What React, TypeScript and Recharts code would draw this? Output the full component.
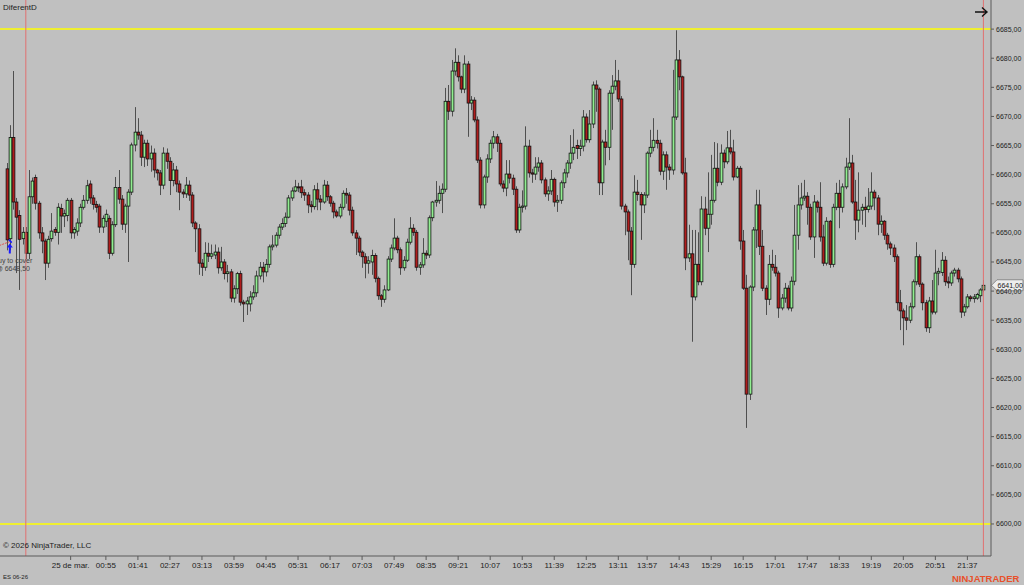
import React from "react";
import { Bar, ComposedChart, ReferenceDot, ReferenceLine, XAxis, YAxis } from "recharts";

// ES 06-26 candles (price points)
const opens = [
  6661, 6649, 6666.4, 6655.3, 6653, 6649, 6650.1, 6646.5, 6656.2, 6659.5,
  6655.1, 6650, 6648.6, 6644.8, 6649, 6650.6, 6650.1, 6654.2, 6652.9, 6653,
  6655.6, 6650, 6650.3, 6651.7, 6654.4, 6655.6, 6658.4, 6656, 6654.9, 6654.6,
  6651, 6652, 6652.5, 6646.5, 6651.4, 6657.8, 6655.8, 6651.5, 6654.6, 6657,
  6665.1, 6667.3, 6666.8, 6663, 6665.4, 6662.7, 6663.7, 6660.8, 6660.3, 6658.2,
  6663.7, 6662.3, 6659, 6660.8, 6658.4, 6657, 6656.7, 6658.2, 6656.5, 6651.7,
  6650.7, 6644.8, 6644.1, 6646.5, 6646, 6646.2, 6646.7, 6644, 6645, 6643,
  6643.3, 6638.8, 6640.4, 6643, 6638.1, 6637.8, 6637.8, 6639, 6639.7, 6642.6,
  6644.1, 6643.3, 6644.6, 6647.6, 6647.9, 6649.6, 6651, 6651.6, 6652.7, 6656,
  6657.2, 6657.9, 6657.9, 6656.9, 6656.5, 6654.8, 6654.5, 6657.4, 6655.8, 6655.3,
  6658.2, 6656.2, 6655.1, 6653.6, 6652.9, 6654.4, 6656.8, 6656.5, 6653.9, 6650,
  6649.1, 6646.7, 6645.9, 6644.8, 6645, 6646.1, 6642.2, 6639.2, 6638.6, 6640.2,
  6645.5, 6647.4, 6649.1, 6647.1, 6644, 6645.3, 6648.4, 6650.8, 6650.1, 6644.1,
  6644.5, 6646.5, 6646.2, 6652.6, 6655.3, 6655.6, 6656.8, 6657.5, 6672.6, 6670.9,
  6677.8, 6679.3, 6676.8, 6674.7, 6679, 6672.3, 6672.8, 6669.4, 6662.5, 6654.8,
  6659.6, 6662.7, 6665.4, 6666.5, 6665.4, 6658.4, 6657.7, 6660.1, 6659.4, 6657.5,
  6650.5, 6654.4, 6654.6, 6664.9, 6660.3, 6660.1, 6661.3, 6662, 6659.1, 6656.7,
  6657.2, 6659.2, 6655.3, 6655.6, 6658.6, 6660.3, 6662, 6663.7, 6665, 6664.5,
  6664.9, 6669.9, 6666, 6668.7, 6675.4, 6674.7, 6658.6, 6665.6, 6664.7, 6674,
  6675.2, 6676.1, 6673, 6654.6, 6653.6, 6650.3, 6644.6, 6657, 6656.6, 6654.8,
  6656.5, 6663.7, 6664.7, 6665.9, 6665.4, 6660.6, 6663.4, 6661.3, 6660.8, 6669.9,
  6679.7, 6676.8, 6660.3, 6645.7, 6646.4, 6639, 6644.6, 6641.6, 6654.1, 6650.8,
  6653.2, 6655.6, 6661.1, 6658.7, 6663.7, 6662.2, 6664.6, 6663.9, 6659.6, 6661.1,
  6648.6, 6640.5, 6622.3, 6640.7, 6650.5, 6654.8, 6647.7, 6640.5, 6638.6, 6644.6,
  6644.1, 6643.1, 6637.1, 6638.8, 6640.5, 6637.1, 6641.7, 6649.6, 6654.8, 6656,
  6656.3, 6654.4, 6649.3, 6655.3, 6654.4, 6649.3, 6644.8, 6652, 6644.6, 6654.4,
  6656.8, 6654.4, 6657.9, 6661.3, 6662, 6655.3, 6652.2, 6653.9, 6654.4, 6654,
  6654.6, 6657, 6656, 6651.5, 6652, 6649.6, 6648.1, 6647.4, 6645.9, 6638,
  6636.6, 6635.4, 6635, 6637.3, 6641.6, 6645.9, 6641.2, 6638, 6633.7, 6638.3,
  6636.4, 6643.1, 6643.2, 6645.3, 6641.6, 6641.4, 6643.1, 6643.6, 6642.1, 6636.4,
  6637.3, 6639, 6638.7, 6638.8, 6639.2, 6640.2,
];

const highs = [
  6662, 6668.5, 6677.8, 6656, 6653.9, 6651, 6651, 6660.8, 6659.5, 6660,
  6655.5, 6651, 6649, 6649.5, 6653.4, 6651, 6655.1, 6655, 6654, 6656,
  6656, 6651, 6652.5, 6655, 6656.5, 6659.1, 6659, 6656.5, 6655.5, 6655,
  6653, 6654, 6653, 6652, 6659.6, 6660.8, 6656.5, 6655, 6657.5, 6665.5,
  6671.6, 6669.7, 6667.5, 6666, 6666, 6665, 6664.5, 6661, 6660.8, 6664.7,
  6664.5, 6663, 6662, 6661.5, 6659, 6657.5, 6659.6, 6659, 6657, 6652,
  6651.5, 6645.5, 6648.4, 6648.3, 6648, 6648, 6647.5, 6647.6, 6645.5, 6644.5,
  6643.8, 6641, 6643.3, 6643.5, 6638.5, 6639, 6640, 6641, 6643.5, 6645,
  6645, 6645.5, 6648, 6649.6, 6650.1, 6651.5, 6652.5, 6653.5, 6656.5, 6657.8,
  6659.1, 6658.6, 6659.1, 6657.5, 6657, 6655.5, 6658.2, 6658.6, 6656.5, 6659.1,
  6658.9, 6656.5, 6655.5, 6654, 6655, 6657.3, 6657.7, 6657, 6654.5, 6650.5,
  6649.5, 6647, 6646.5, 6646, 6647.1, 6646.5, 6642.5, 6639.5, 6641, 6646,
  6648, 6652.5, 6649.5, 6647.5, 6646, 6649, 6652.7, 6651.5, 6650.5, 6645,
  6649.1, 6647, 6653, 6655.5, 6658.9, 6658.1, 6658.5, 6674.9, 6675.4, 6679.7,
  6681.7, 6680.5, 6677, 6680.5, 6679.5, 6673.5, 6673.3, 6670, 6663, 6660,
  6663.5, 6666, 6667.5, 6667, 6666, 6659, 6662.5, 6662.5, 6660, 6658,
  6655, 6657.3, 6668.3, 6666, 6661, 6663, 6663, 6662.5, 6659.5, 6658,
  6660.8, 6659.5, 6656.5, 6659, 6661, 6662.5, 6666.8, 6667.8, 6666, 6666,
  6671.1, 6670.5, 6671.1, 6676, 6676.2, 6675, 6666, 6667.7, 6674.5, 6677.1,
  6679.7, 6678, 6673.5, 6655, 6654, 6651, 6659.9, 6659.1, 6657, 6657,
  6664, 6667.7, 6669.7, 6667.7, 6666, 6664, 6664, 6661.8, 6678, 6684.8,
  6681.4, 6677, 6662.9, 6651.4, 6650.5, 6650.5, 6650.1, 6656.3, 6656.2, 6660.4,
  6663.4, 6665.6, 6665.4, 6665.2, 6664.3, 6667.5, 6667.7, 6666, 6661.5, 6661.5,
  6650.5, 6642.8, 6641, 6651, 6657.4, 6657.4, 6650.5, 6641, 6646.2, 6647.1,
  6646.2, 6643.5, 6639.5, 6641.4, 6641, 6642.5, 6654.8, 6658.2, 6658.6, 6659.1,
  6657, 6655, 6656.5, 6655.6, 6658.7, 6651.4, 6652.7, 6652.2, 6655, 6658.6,
  6659.1, 6658.5, 6662.9, 6669.7, 6663.4, 6659.1, 6660.4, 6655, 6656.2, 6657.7,
  6660.4, 6657.4, 6656.5, 6653, 6652.2, 6650, 6648.5, 6648, 6646.3, 6640.2,
  6637, 6637.6, 6638, 6642, 6648.4, 6646.3, 6641.5, 6638.5, 6639, 6641.9,
  6647.1, 6644, 6646.7, 6646, 6642.5, 6643.5, 6644, 6644, 6642.5, 6637.8,
  6639.5, 6639.3, 6639.5, 6639.7, 6640.5, 6641.9,
];

const lows = [
  6647, 6647, 6654, 6643.1, 6640.2, 6648, 6645.5, 6645.5, 6655, 6654,
  6649, 6646.5, 6641.9, 6644, 6648.5, 6649.5, 6648, 6650, 6651, 6652,
  6649, 6649, 6649.5, 6651, 6654, 6655, 6655, 6654, 6653.5, 6650,
  6650, 6651, 6645.5, 6646.1, 6651, 6655, 6650.5, 6650, 6645, 6656.5,
  6664, 6666, 6661.5, 6661.3, 6661.5, 6660.5, 6659.5, 6659, 6656.5, 6657.5,
  6661, 6656.5, 6658, 6657, 6653.9, 6656, 6656, 6655.5, 6651, 6646.7,
  6642.8, 6642.6, 6643.5, 6645, 6645.5, 6645.5, 6643, 6643.5, 6642, 6641.5,
  6638.1, 6638, 6639.5, 6637.5, 6634.7, 6635.9, 6636.5, 6638.5, 6639, 6642,
  6641.5, 6642.5, 6644, 6647, 6647.5, 6649, 6650.5, 6651, 6652.5, 6655.5,
  6657, 6657, 6656, 6655.5, 6653.4, 6653.5, 6654, 6653.9, 6653.9, 6655,
  6655.5, 6654.5, 6652.5, 6652.6, 6652.5, 6654, 6655, 6653, 6649.5, 6646.2,
  6646, 6644, 6642.2, 6643, 6642.8, 6641.5, 6638.5, 6637.3, 6638, 6640,
  6645, 6647, 6646.5, 6642.8, 6643.5, 6645, 6648, 6649.5, 6643.5, 6642.8,
  6644, 6645.5, 6645.7, 6652, 6654.5, 6655, 6653.4, 6657, 6669.4, 6670,
  6677, 6676, 6674, 6674, 6666.5, 6671.1, 6669, 6662, 6654.2, 6654.2,
  6658.6, 6662, 6664.5, 6663.9, 6658, 6657, 6656.3, 6658.5, 6656.5, 6650,
  6650, 6653.5, 6654, 6659.5, 6658.6, 6659.1, 6660.5, 6658.5, 6656.2, 6655.5,
  6656.5, 6654.5, 6653.6, 6655, 6657.7, 6659.5, 6661, 6662.5, 6662.7, 6663.2,
  6664, 6665.5, 6665.5, 6668, 6670.8, 6656.5, 6656.5, 6661.6, 6662.5, 6667.7,
  6674.5, 6672.5, 6654, 6649.6, 6645.3, 6639.3, 6644, 6655.5, 6648.8, 6653.4,
  6656, 6663, 6664, 6664.5, 6659.9, 6659.1, 6657.4, 6659.1, 6660, 6669.4,
  6674.5, 6660, 6643.6, 6645, 6631.3, 6638.4, 6641, 6641, 6649.6, 6646.7,
  6651.4, 6655.2, 6658, 6658.2, 6661.1, 6661.8, 6663.5, 6659, 6659.4, 6647.1,
  6640.2, 6616.5, 6621.3, 6640, 6647.4, 6646.2, 6640, 6635.9, 6637.6, 6643.5,
  6642.5, 6635.4, 6636.7, 6638, 6636.7, 6636.5, 6641, 6647.1, 6654, 6655.5,
  6651.4, 6648.8, 6645.7, 6653.5, 6648.5, 6644.3, 6644.4, 6644, 6644.1, 6653.9,
  6650.8, 6653.5, 6657.5, 6660.8, 6655, 6648.8, 6650.1, 6651.4, 6651, 6653.5,
  6654, 6653.9, 6649.6, 6650, 6648.8, 6647.1, 6646.2, 6645, 6636.7, 6633.3,
  6630.7, 6633.3, 6634.5, 6637, 6641, 6640.7, 6636.7, 6633, 6632.8, 6636,
  6636, 6641, 6642.6, 6640.9, 6640.5, 6640.9, 6642.5, 6641.5, 6635.4, 6635.7,
  6637, 6638.2, 6638, 6638.5, 6638.1, 6639.8,
];

const closes = [
  6648.8, 6666.4, 6655.3, 6652.7, 6648.9, 6650.1, 6646.5, 6656.2, 6658.9, 6655.1,
  6650, 6648.6, 6644.8, 6648.9, 6650.3, 6650.1, 6654.4, 6652.9, 6653.3, 6655.6,
  6650, 6650.6, 6651.7, 6654.4, 6655.6, 6658.1, 6656, 6654.9, 6654.4, 6651,
  6652.5, 6653.2, 6646.5, 6651.4, 6657.8, 6655.8, 6651.5, 6654.6, 6657, 6665.1,
  6667.3, 6666.8, 6663, 6665.4, 6662.7, 6663.7, 6660.8, 6660.3, 6658.2, 6663.7,
  6662.3, 6659, 6660.8, 6658.4, 6657, 6656.7, 6658.2, 6656.5, 6651.7, 6650.7,
  6644.8, 6644.1, 6646.5, 6646, 6646.4, 6646.7, 6644, 6645, 6643, 6643.3,
  6638.8, 6640.4, 6643, 6638.1, 6637.8, 6638.3, 6639, 6639.7, 6642.6, 6644.1,
  6643.3, 6644.6, 6647.6, 6647.9, 6649.6, 6651, 6651.6, 6652.7, 6656, 6657.2,
  6657.9, 6657.8, 6656.9, 6656.5, 6654.8, 6654.5, 6657.4, 6655.8, 6655.3, 6658.2,
  6656.2, 6655.1, 6653.6, 6652.9, 6654.4, 6656.8, 6656.5, 6653.9, 6650, 6649.1,
  6646.7, 6645.9, 6644.8, 6645.2, 6646.1, 6642.2, 6639.2, 6638.6, 6640.2, 6645.5,
  6647.4, 6649.1, 6647.1, 6644, 6645.3, 6648.4, 6650.8, 6650.1, 6644.1, 6644.5,
  6646.5, 6646.2, 6652.6, 6655.3, 6655.6, 6656.8, 6657.5, 6672.6, 6670.9, 6677.8,
  6679.3, 6676.8, 6674.7, 6679, 6672.3, 6672.8, 6669.4, 6662.5, 6654.8, 6659.6,
  6662.7, 6665.4, 6666.5, 6665.4, 6658.4, 6657.7, 6660.1, 6659.4, 6657.5, 6650.5,
  6654.4, 6654.6, 6664.9, 6660.3, 6660.1, 6661.3, 6662, 6659.1, 6656.7, 6657.2,
  6659.2, 6655.3, 6655.6, 6658.6, 6660.3, 6662, 6663.7, 6664.7, 6664.5, 6664.9,
  6669.9, 6666, 6668.7, 6675.4, 6674.7, 6658.6, 6665.6, 6664.7, 6674, 6675.2,
  6676.1, 6673, 6654.6, 6653.6, 6650.3, 6644.6, 6657, 6656.6, 6654.8, 6656.5,
  6663.7, 6664.7, 6665.9, 6665.4, 6660.6, 6663.4, 6661.3, 6660.8, 6669.9, 6679.7,
  6676.8, 6660.3, 6645.7, 6646.4, 6639, 6644.6, 6641.6, 6654.1, 6650.8, 6653.2,
  6655.6, 6661.1, 6658.7, 6663.7, 6662.2, 6664.6, 6663.9, 6659.6, 6661.1, 6648.6,
  6640.5, 6622.3, 6640.7, 6650.5, 6654.8, 6647.7, 6640.5, 6638.6, 6644.6, 6644.1,
  6643.1, 6637.1, 6638.8, 6640.5, 6637.1, 6641.7, 6649.6, 6654.8, 6656, 6656.3,
  6654.4, 6649.3, 6655.3, 6654.4, 6649.3, 6644.8, 6652, 6644.6, 6654.4, 6656.8,
  6654.4, 6657.9, 6661.3, 6662, 6655.3, 6652.2, 6653.9, 6654.4, 6654, 6654.6,
  6657, 6656, 6651.5, 6652, 6649.6, 6648.1, 6647.4, 6645.9, 6638, 6636.6,
  6635.4, 6635, 6637.3, 6641.6, 6645.9, 6641.2, 6638, 6633.7, 6638.3, 6636.4,
  6643.1, 6643.4, 6645.3, 6641.6, 6641.4, 6643.1, 6643.6, 6642.1, 6636.4, 6637.3,
  6639, 6638.7, 6639, 6639.4, 6640.2, 6641,
];

// time axis: bar index -> label
const tickIdx = [
  20, 31, 41, 51, 61, 71, 81, 91, 101, 111, 121, 131, 141, 151, 161,
  171, 181, 191, 200, 210, 220, 230, 240, 250, 260, 270, 280, 290, 300,
];
const tickLabels = [
  "25 de mar.", "00:55", "01:41", "02:27", "03:13", "03:59", "04:45", "05:31",
  "06:17", "07:03", "07:49", "08:35", "09:21", "10:07", "10:53", "11:39",
  "12:25", "13:11", "13:57", "14:43", "15:29", "16:15", "17:01", "17:47",
  "18:33", "19:19", "20:05", "20:51", "21:37",
];
const priceTicks = [
  6600, 6605, 6610, 6615, 6620, 6625, 6630, 6635, 6640,
  6645, 6650, 6655, 6660, 6665, 6670, 6675, 6680, 6685,
];
const levelLines = [6685, 6600];
const sessionMarks = [6, 305];
const lastPrice = 6641;
const fillPrice = 6648.5;
const fillBar = 1;

const data = opens.map((o, i) => ({
  i, o, h: highs[i], l: lows[i], c: closes[i], range: [lows[i], highs[i]],
}));

const fmt = (v: number) => v.toFixed(2).replace(".", ",");
const labelFor = (v: number) => tickLabels[tickIdx.indexOf(v)] ?? "";

function Candle(props: any) {
  const { x, y, width, height, payload } = props;
  const { o, h, l, c } = payload;
  const cx = Math.round(x + width / 2) + 0.5;
  const k = height / (h - l);
  const top = y + (h - Math.max(o, c)) * k;
  const bot = y + (h - Math.min(o, c)) * k;
  const up = c >= o;
  return (
    <g>
      <line x1={cx} x2={cx} y1={y} y2={y + height} stroke="#4f4f4f" strokeWidth={1} />
      <rect
        x={cx - 1.4} y={top} width={2.8} height={Math.max(bot - top, 1)}
        fill={up ? "#90ee90" : "#b01c1c"} stroke="#111" strokeWidth={0.8}
      />
    </g>
  );
}

function PriceTag(props: any) {
  const { viewBox } = props;
  const ax = viewBox.x + viewBox.width;
  const y = viewBox.y;
  return (
    <g>
      <polygon
        points={`${ax + 0.5},${y} ${ax + 6},${y - 5.5} ${ax + 32},${y - 5.5} ${ax + 32},${y + 5.5} ${ax + 6},${y + 5.5}`}
        fill="#ededed" stroke="#777" strokeWidth={0.8}
      />
      <text x={ax + 6.5} y={y + 2.5} fontSize={7} fill="#222">{fmt(lastPrice)}</text>
    </g>
  );
}

function FillMark(props: any) {
  const { cx, cy } = props;
  return (
    <g>
      <line x1={cx - 16} y1={cy + 6} x2={cx} y2={cy} stroke="#e05050" strokeDasharray="2 1" strokeWidth={1} />
      <path d={`M${cx - 1},${cy - 2} L${cx + 2},${cy + 1}`} stroke="#1a1aff" strokeWidth={1.5} />
      <path
        d={`M${cx},${cy + 2} L${cx + 3},${cy + 6} L${cx + 1},${cy + 6} L${cx + 1},${cy + 12} L${cx - 1},${cy + 12} L${cx - 1},${cy + 6} L${cx - 3},${cy + 6} Z`}
        fill="#1a1aff"
      />
      <text x={cx + 3} y={cy + 21} fontSize={7} fill="#444" textAnchor="middle">Buy to cover</text>
      <text x={cx + 3} y={cy + 29} fontSize={7} fill="#444" textAnchor="middle">@ {fmt(fillPrice)}</text>
    </g>
  );
}

const small: React.CSSProperties = { position: "absolute", fontSize: 8, color: "#222", whiteSpace: "nowrap" };

export default function App() {
  return (
    <div
      style={{
        position: "absolute", left: 0, top: 0, width: 1024, height: 585,
        background: "#c0c0c0", overflow: "hidden",
        fontFamily: "'Liberation Sans', Arial, sans-serif",
      }}
    >
      <ComposedChart
        width={1024} height={585} data={data} barCategoryGap={0}
        margin={{ top: 0, right: 0, bottom: 0, left: 0 }}
      >
        <XAxis
          dataKey="i" type="category" ticks={tickIdx} interval={0} tickFormatter={labelFor}
          padding={{ left: 5, right: 6 }} height={29} tickSize={4} tickMargin={2}
          stroke="#5a5a5a" tick={{ fontSize: 8, fill: "#222" }}
        />
        <YAxis
          orientation="right" type="number" width={33} domain={[6594.5, 6690]} allowDataOverflow
          ticks={priceTicks} interval={0} tickFormatter={fmt} tickSize={3} tickMargin={2}
          stroke="#5a5a5a" tick={{ fontSize: 7, fill: "#222" }}
        />
        {levelLines.map((v) => (
          <ReferenceLine key={v} y={v} stroke="#ffff00" strokeWidth={1.5} />
        ))}
        {sessionMarks.map((v) => (
          <ReferenceLine key={v} x={v} stroke="#e07070" strokeWidth={1} />
        ))}
        <Bar dataKey="range" shape={Candle} isAnimationActive={false} />
        <ReferenceDot x={fillBar} y={fillPrice} shape={FillMark} />
        <ReferenceLine y={lastPrice} stroke="none" label={<PriceTag />} />
      </ComposedChart>
      <div style={{ ...small, left: 3, top: 3 }}>DiferentD</div>
      <div style={{ ...small, left: 3, top: 541 }}>© 2026 NinjaTrader, LLC</div>
      <div style={{ ...small, left: 3, top: 574, fontSize: 6 }}>ES 06-26</div>
      <svg style={{ position: "absolute", left: 974, top: 6 }} width={16} height={12}>
        <path d="M1,6 L13,6 M8,1.5 L13,6 L8,10.5" stroke="#111" strokeWidth={1.4} fill="none" />
      </svg>
      <div
        style={{
          position: "absolute", left: 952, top: 573, fontSize: 9.5, fontWeight: 700,
          color: "#e8502a", whiteSpace: "nowrap",
        }}
      >
        NINJATRADER
      </div>
    </div>
  );
}
